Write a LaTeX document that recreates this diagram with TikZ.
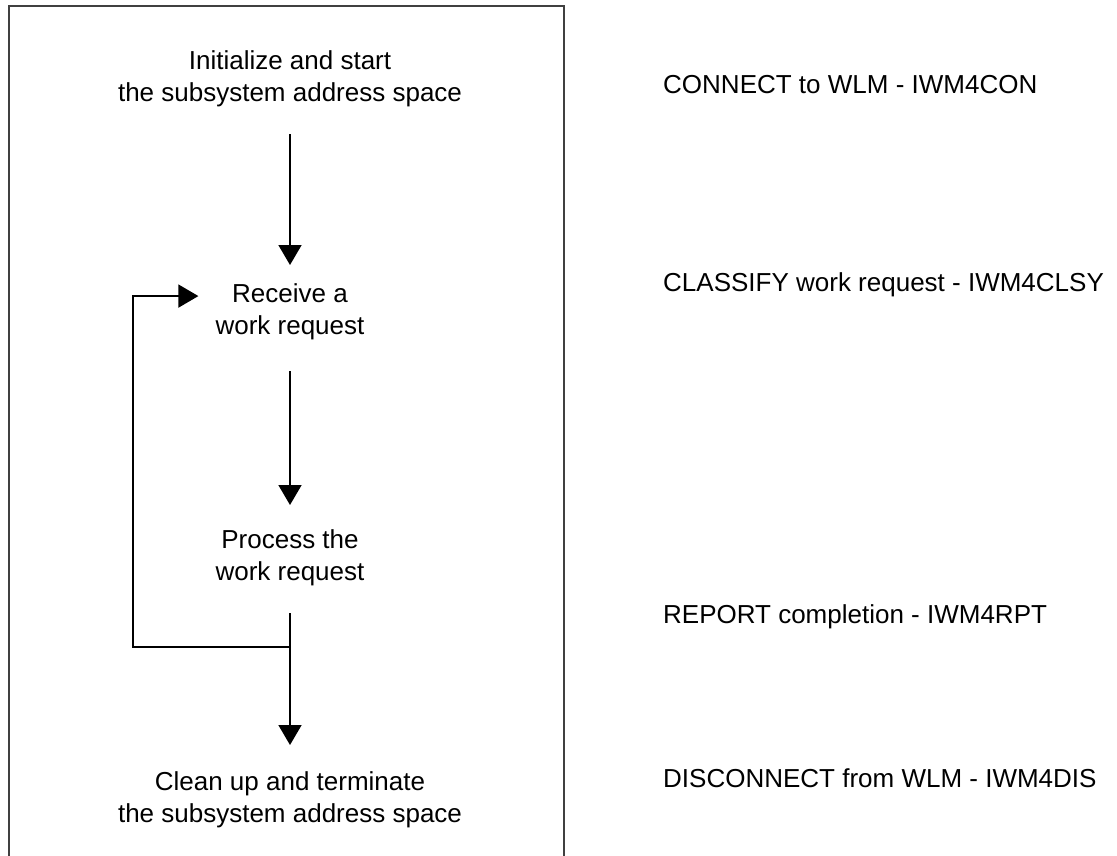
\documentclass[tikz,border=0pt]{standalone}
\usepackage{fontspec}
\setmainfont{Liberation Sans}
\usetikzlibrary{arrows.meta}
\tikzset{
  steptext/.style={align=center, inner sep=0pt, anchor=north, font=\fontsize{26pt}{32.5pt}\selectfont},
  apicall/.style={inner sep=0pt, anchor=base west, font=\fontsize{26pt}{32.5pt}\selectfont},
  flow/.style={line width=1.6pt, -{Triangle[width=23pt,length=20pt]}, shorten <=27pt, shorten >=24pt},
}
\begin{document}
\begin{tikzpicture}[x=1pt,y=-1pt]
\useasboundingbox (0,0) rectangle (1117,856);
\clip (0,0) rectangle (1117,856);

% Subsystem frame, open at the bottom
\draw[line width=2.5pt, black!75] (9,880) -- (9,6) -- (564,6) -- (564,880);

% Steps of the subsystem
\node[steptext] (init) at (290,50) {Initialize and start\\the subsystem address space};
\node[steptext] (receive) at (290,283) {Receive a\\work request};
\node[steptext] (process) at (290,529) {Process the\\work request};
\node[steptext] (cleanup) at (290,771) {Clean up and terminate\\the subsystem address space};

% Flow between the steps
\draw[flow, shorten >=18pt] (init) -- (receive);
\draw[flow, shorten <=31pt] (receive) -- (process);
\draw[flow, shorten >=26pt] (process) -- (cleanup);

% Loop back for the next request
\coordinate (fork) at (290,647);
\coordinate (loopcorner) at (133,647);
\draw[flow, shorten <=0pt, shorten >=17pt] (fork) -- (loopcorner) |- ([yshift=15.5pt]receive.west);

% WLM services used at each step
\node[apicall] (connect) at (663,94) {CONNECT to WLM - IWM4CON};
\node[apicall] (classify) at (663,291) {CLASSIFY work request - IWM4CLSY};
\node[apicall] (report) at (663,623) {REPORT completion - IWM4RPT};
\node[apicall] (disconnect) at (663,787) {DISCONNECT from WLM - IWM4DIS};

\end{tikzpicture}
\end{document}
